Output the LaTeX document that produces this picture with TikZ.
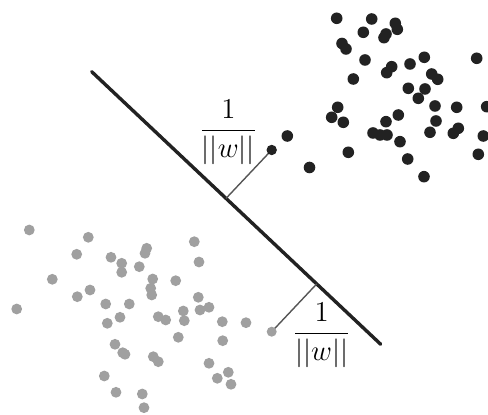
\documentclass[tikz,border=0pt]{standalone}
\usepackage{amsmath}
\usepackage{tikz}
\usetikzlibrary{calc}

\definecolor{dotblack}{HTML}{222222}
\definecolor{dotgray}{HTML}{A0A0A0}
\definecolor{margingray}{HTML}{555555}

\begin{document}
\begin{tikzpicture}[
    x=0.5pt, y=-0.5pt,
    blackdot/.style={fill=dotblack},
    graydot/.style={fill=dotgray},
    hyperplane/.style={draw=dotblack, line width=1.7pt, line cap=round},
    margin/.style={draw=margingray, line width=0.7pt},
    marginlabel/.style={inner sep=0pt, anchor=base, font=\fontsize{13.5}{15}\selectfont}
]
\useasboundingbox (0,0) rectangle (488,415);

% separating line and the two support vectors
\coordinate (h1) at (91.7,71.7);
\coordinate (h2) at (380.7,344.3);
\coordinate (svb) at (271.7,150);
\coordinate (svg) at (271.7,331.7);
\coordinate (fb) at ($(h1)!(svb)!(h2)$);
\coordinate (fg) at ($(h1)!(svg)!(h2)$);

% black class
\foreach \p in {(336.7,18.3),(371.7,19),(395.3,23.3),(397.3,29.3),(363.3,32.3),
    (384,37.7),(386,34),(342,43.5),(346,49),(365,60),(386.7,72.7),(391.7,66.7),
    (410,64),(424.3,57.3),(476.7,58.3),(353.3,79),(431.7,74),(437.7,79.3),
    (408.3,88.3),(425,89),(418.3,98.3),(435,106),(456.7,107.3),(486.7,106.7),
    (337.7,107.3),(331.7,117.3),(343.3,122.3),(398.3,115),(386,121.7),(436,121),
    (373,133),(380,135),(387,135),(430,132.3),(458.3,128.3),(453.3,133.3),
    (483.3,136),(400,141.7),(348.3,152.3),(407.7,159),(478.3,154.3),(424,176.7),
    (309.5,167.5),(287.3,136)}
  \fill[blackdot] \p circle[radius=2.9pt];

% gray class
\foreach \p in {(29.3,230),(88.3,237.3),(76.7,254.3),(111,257.3),(121.7,263.3),
    (121.7,272.3),(146.7,248.3),(145,253.3),(139.3,266.7),(194.3,241.7),(199,262),
    (52.3,279.3),(77.3,296.7),(90,290),(152.7,279),(150.7,288.3),(151.7,295),
    (175.7,280.7),(16.7,309),(105.7,304),(129.3,304),(198.3,297.3),(200,310),
    (209,307.3),(183.3,311),(184.3,320.7),(158.3,316.7),(165.7,320),(120,317.3),
    (107.3,323.3),(222.3,321.7),(246,322.7),(178.3,337.3),(222.7,340.7),(115,344.3),
    (125,354.3),(122.7,352.7),(153.3,356.7),(158.3,361.7),(209,363.3),(217.3,378.3),
    (228.3,372.3),(231,384.3),(104.3,376),(116,392.3),(142.3,394),(144,407.7)}
  \fill[graydot] \p circle[radius=2.7pt];

\draw[hyperplane] (h1) -- (h2);
\draw[margin] (svb) -- (fb);
\draw[margin] (svg) -- (fg);
\fill[blackdot] (svb) circle[radius=2.6pt];
\fill[graydot] (svg) circle[radius=2.5pt];

% distance labels
\node[marginlabel] (lb) at (228.3,137.5) {$\dfrac{1}{||w||}$};
\node[marginlabel] (lg) at (321.7,340.8) {$\dfrac{1}{||w||}$};
\end{tikzpicture}
\end{document}
